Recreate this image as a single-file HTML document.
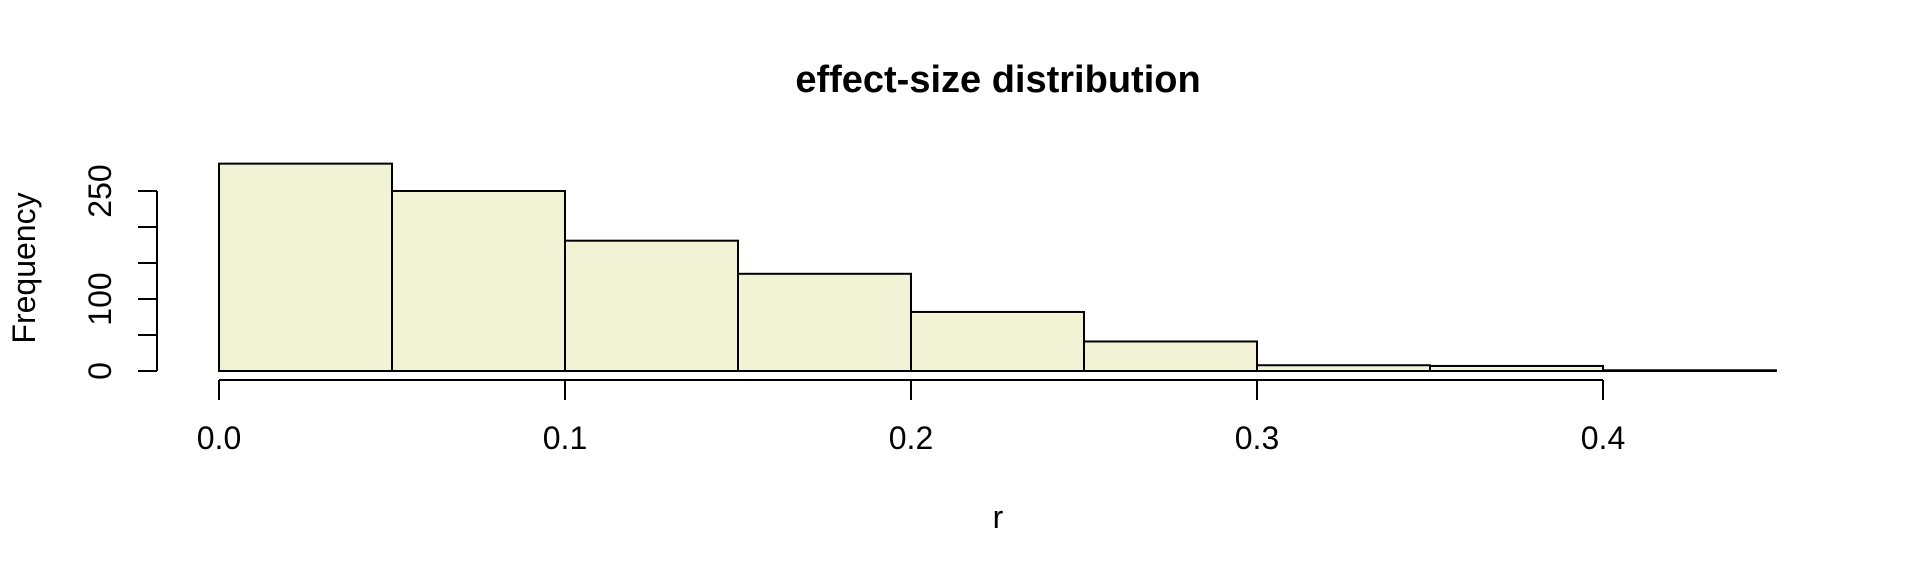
<!DOCTYPE html>
<html><head><meta charset="utf-8"><style>
html,body{margin:0;padding:0;background:#fff;}
svg{display:block;font-family:"Liberation Sans",Arial,sans-serif;}
</style></head><body>
<svg id="chart" width="1920" height="576" viewBox="0 0 1920 576">
<text x="998" y="92" text-anchor="middle" font-size="38" font-weight="bold">effect-size distribution</text>
<text x="0" y="0" transform="translate(35,268) rotate(-90)" text-anchor="middle" font-size="32">Frequency</text>
<text x="998" y="528" text-anchor="middle" font-size="32">r</text>
<g id="bars"></g>
<g id="yaxis"></g>
<g id="xaxis"></g>
</svg>
<script>
const binEdges = [0,0.05,0.1,0.15,0.2,0.25,0.3,0.35,0.4,0.45];
const counts = [288,250,181,135,82,41,8,7,1];
const yTicks = [0,50,100,150,200,250];
const yTickLabels = ["0","","100","","","250"];
const xTicks = [0,0.1,0.2,0.3,0.4];
const xTickLabels = ["0.0","0.1","0.2","0.3","0.4"];

const NS="http://www.w3.org/2000/svg";
const x = v => 219 + v*3460;
const y = v => 371 - v*0.72;
function mk(tag, attrs, parent){const e=document.createElementNS(NS,tag);for(const k in attrs)e.setAttribute(k,attrs[k]);parent.appendChild(e);return e;}
const bars=document.getElementById('bars');
counts.forEach((c,i)=>{
  const r=mk('rect',{x:x(binEdges[i]),y:y(c),width:x(binEdges[i+1])-x(binEdges[i]),height:y(0)-y(c),fill:'#f2f2d5',stroke:'#000','stroke-width':2},bars);
  
  
});
const ya=document.getElementById('yaxis');
mk('line',{x1:157,x2:157,y1:y(yTicks[0]),y2:y(yTicks[yTicks.length-1]),stroke:'#000','stroke-width':2},ya);
yTicks.forEach((t,i)=>{
  mk('line',{x1:138,x2:157,y1:y(t),y2:y(t),stroke:'#000','stroke-width':2},ya);
  if(yTickLabels[i]){
    const tx=mk('text',{transform:`translate(111,${y(t)}) rotate(-90)`,'text-anchor':'middle','font-size':32},ya);
    tx.textContent=yTickLabels[i];
    
    
  }
});
const xa=document.getElementById('xaxis');
mk('line',{x1:x(xTicks[0]),x2:x(xTicks[xTicks.length-1]),y1:380,y2:380,stroke:'#000','stroke-width':2},xa);
xTicks.forEach((t,i)=>{
  mk('line',{x1:x(t),x2:x(t),y1:380,y2:400,stroke:'#000','stroke-width':2},xa);
  const tx=mk('text',{x:x(t),y:449,'text-anchor':'middle','font-size':32},xa);
  tx.textContent=xTickLabels[i];
  
  
});
</script>
</body></html>
